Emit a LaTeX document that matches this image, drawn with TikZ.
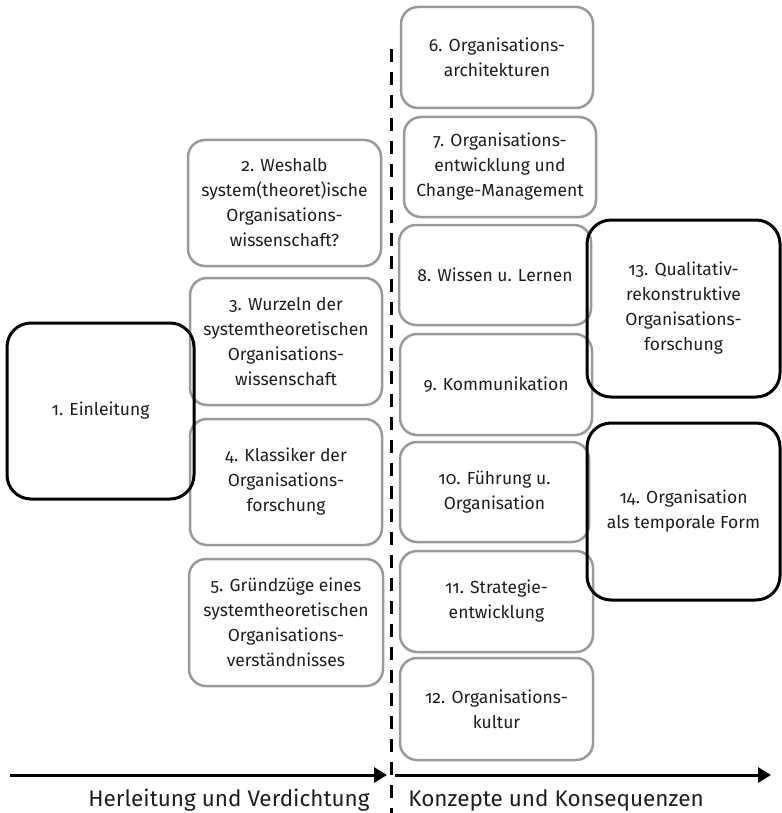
\documentclass[tikz,border=0pt]{standalone}
\usepackage{fontspec}
\setmainfont[Numbers=OldStyle]{Fira Sans}
\usetikzlibrary{arrows.meta}
\definecolor{boxgray}{HTML}{9A9A9A}
\definecolor{txt}{HTML}{1E1E1E}
\begin{document}
\begin{tikzpicture}[x=1pt,y=1pt,
  every node/.style={font=\fontsize{17.5}{25}\selectfont, text=txt},
  gbox/.style={draw=boxgray, line width=2.5pt, rounded corners=17pt, align=center, inner sep=0pt},
  kbox/.style={draw=black, line width=3pt, rounded corners=24pt, align=center, inner sep=0pt},
  axis/.style={line width=3pt, -{Triangle[length=13pt,width=15pt]}},
  divider/.style={line width=3pt, dash pattern=on 13pt off 10pt},
  axislabel/.style={font=\fontsize{22.5}{26}\selectfont}]
\useasboundingbox (0,0) rectangle (781,-813);
% left column
\node[gbox, minimum width=193pt, minimum height=126pt] (b2) at (284.5,-203) {2. Weshalb\\system(theoret)ische\\Organisations-\\wissenschaft?};
\node[gbox, minimum width=192pt, minimum height=127pt] (b3) at (286,-341.5) {3. Wurzeln der\\systemtheoretischen\\Organisations-\\wissenschaft};
\node[gbox, minimum width=192pt, minimum height=126pt] (b4) at (286,-482) {4. Klassiker der\\Organisations-\\forschung};
\node[gbox, minimum width=194pt, minimum height=127pt] (b5) at (286,-622.5) {5. Gründzüge eines\\systemtheoretischen\\Organisations-\\verständnisses};
% middle column
\node[gbox, minimum width=192pt, minimum height=101pt] (b6) at (497,-57.5) {6. Organisations-\\architekturen};
\node[gbox, minimum width=192pt, minimum height=100pt] (b7) at (500,-167) {7. Organisations-\\entwicklung und\\Change-Management};
\node[gbox, minimum width=192pt, minimum height=100pt] (b8) at (495,-275) {8. Wissen u. Lernen};
\node[gbox, minimum width=192pt, minimum height=101pt] (b9) at (496,-384.5) {9. Kommunikation};
\node[gbox, minimum width=189pt, minimum height=100pt] (b10) at (494.5,-492) {10. Führung u.\\Organisation};
\node[gbox, minimum width=193pt, minimum height=101pt] (b11) at (496.5,-601.5) {11. Strategie-\\entwicklung};
\node[gbox, minimum width=193pt, minimum height=102pt] (b12) at (496.5,-709) {12. Organisations-\\kultur};
% black boxes
\node[kbox, minimum width=187pt, minimum height=176pt] (b1) at (100.5,-411) {1. Einleitung};
\node[kbox, minimum width=193pt, minimum height=177pt] (b13) at (683.5,-308.5) {13. Qualitativ-\\rekonstruktive\\Organisations-\\forschung};
\node[kbox, minimum width=193pt, minimum height=177pt] (b14) at (683.5,-511.5) {14. Organisation\\als temporale Form};
% divider and axes
\coordinate (dtop) at (391,-49);
\coordinate (dbot) at (391,-813);
\draw[divider] (dtop) -- (dbot);
\coordinate (la) at (10,-775);
\coordinate (lb) at (387,-775);
\coordinate (ra) at (395,-775);
\coordinate (rb) at (771,-775);
\draw[axis] (la) -- (lb);
\draw[axis] (ra) -- (rb);
\node[axislabel] (lh) at (229,-800) {Herleitung und Verdichtung};
\node[axislabel] (lk) at (556,-800) {Konzepte und Konsequenzen};
\end{tikzpicture}
\end{document}
